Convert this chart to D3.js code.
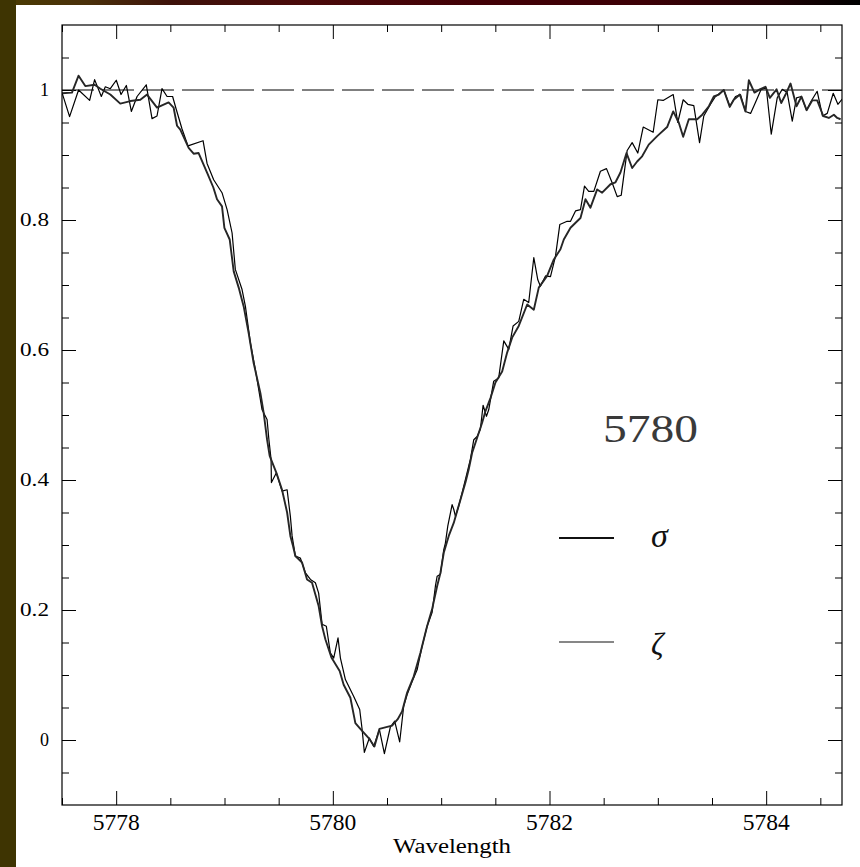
<!DOCTYPE html>
<html>
<head>
<meta charset="utf-8">
<script src="https://cdn.jsdelivr.net/npm/d3@7"></script>
<style>
html,body{margin:0;padding:0;background:#fff;}
svg{display:block;}
</style>
</head>
<body>
<svg id="chart" width="860" height="867"></svg>
<script>
// ---- data ----
const sigmaWave = [5777.500,5777.592,5777.653,5777.715,5777.801,5777.854,5777.946,5778.038,5778.131,5778.223,5778.285,5778.377,5778.484,5778.530,5778.562,5778.592,5778.669,5778.715,5778.761,5778.839,5778.897,5778.931,5778.977,5778.999,5779.048,5779.085,5779.131,5779.177,5779.223,5779.269,5779.331,5779.362,5779.393,5779.417,5779.479,5779.531,5779.578,5779.608,5779.633,5779.654,5779.716,5779.762,5779.808,5779.869,5779.901,5779.931,5779.987,5780.063,5780.100,5780.162,5780.208,5780.254,5780.331,5780.384,5780.430,5780.547,5780.599,5780.639,5780.686,5780.747,5780.808,5780.870,5780.916,5780.963,5780.993,5781.024,5781.070,5781.116,5781.147,5781.184,5781.224,5781.254,5781.286,5781.332,5781.378,5781.409,5781.455,5781.501,5781.563,5781.609,5781.655,5781.716,5781.794,5781.855,5781.901,5781.978,5782.039,5782.101,5782.132,5782.194,5782.255,5782.286,5782.332,5782.378,5782.440,5782.486,5782.563,5782.609,5782.655,5782.711,5782.763,5782.809,5782.855,5782.916,5782.994,5783.086,5783.142,5783.193,5783.234,5783.286,5783.363,5783.410,5783.471,5783.517,5783.563,5783.609,5783.664,5783.701,5783.757,5783.809,5783.840,5783.892,5783.941,5783.994,5784.034,5784.096,5784.139,5784.179,5784.225,5784.280,5784.326,5784.373,5784.425,5784.471,5784.527,5784.578,5784.625,5784.656,5784.687];
const sigmaFlux = [0.995,0.996,1.022,1.006,1.008,1.002,0.993,0.979,0.983,0.985,0.993,0.973,0.981,0.973,0.945,0.939,0.911,0.902,0.903,0.873,0.850,0.832,0.821,0.788,0.770,0.721,0.696,0.667,0.626,0.580,0.534,0.503,0.462,0.437,0.411,0.385,0.350,0.314,0.298,0.283,0.273,0.247,0.242,0.206,0.175,0.155,0.127,0.106,0.085,0.065,0.026,0.017,0.003,-0.010,0.017,0.022,0.032,0.044,0.073,0.098,0.134,0.175,0.201,0.237,0.257,0.288,0.314,0.334,0.352,0.373,0.396,0.416,0.442,0.465,0.488,0.506,0.526,0.550,0.567,0.596,0.619,0.637,0.670,0.662,0.696,0.714,0.739,0.755,0.770,0.788,0.798,0.803,0.832,0.819,0.847,0.842,0.855,0.858,0.873,0.903,0.880,0.890,0.898,0.916,0.929,0.943,0.967,0.950,0.928,0.955,0.955,0.962,0.975,0.990,0.993,1.000,0.974,0.985,0.993,0.967,1.015,0.996,1.001,1.005,0.988,1.001,0.980,0.993,1.010,0.975,0.990,0.969,0.984,0.984,0.960,0.957,0.962,0.957,0.955];

const zetaWave = [5777.500,5777.570,5777.653,5777.755,5777.801,5777.863,5777.900,5777.946,5778.001,5778.045,5778.094,5778.140,5778.193,5778.278,5778.331,5778.377,5778.423,5778.470,5778.521,5778.555,5778.608,5778.663,5778.802,5778.839,5778.900,5778.977,5779.024,5779.070,5779.100,5779.162,5779.193,5779.239,5779.285,5779.347,5779.393,5779.410,5779.430,5779.433,5779.479,5779.531,5779.578,5779.608,5779.624,5779.654,5779.700,5779.747,5779.793,5779.839,5779.869,5779.901,5779.940,5779.977,5780.008,5780.048,5780.070,5780.116,5780.193,5780.248,5780.270,5780.291,5780.337,5780.377,5780.430,5780.476,5780.531,5780.571,5780.617,5780.654,5780.686,5780.732,5780.778,5780.824,5780.870,5780.916,5780.947,5780.963,5780.993,5781.024,5781.039,5781.061,5781.101,5781.116,5781.132,5781.162,5781.193,5781.224,5781.270,5781.301,5781.332,5781.362,5781.387,5781.418,5781.439,5781.485,5781.531,5781.578,5781.624,5781.664,5781.716,5781.762,5781.808,5781.855,5781.892,5781.916,5781.963,5782.009,5782.055,5782.095,5782.163,5782.194,5782.240,5782.286,5782.323,5782.362,5782.409,5782.470,5782.526,5782.579,5782.625,5782.662,5782.717,5782.763,5782.815,5782.865,5782.957,5783.000,5783.049,5783.142,5783.184,5783.234,5783.277,5783.332,5783.385,5783.424,5783.486,5783.532,5783.578,5783.609,5783.664,5783.717,5783.763,5783.809,5783.856,5783.902,5783.954,5784.001,5784.047,5784.102,5784.148,5784.194,5784.241,5784.280,5784.324,5784.373,5784.416,5784.471,5784.520,5784.564,5784.619,5784.662,5784.702];
const zetaFlux = [0.996,0.959,1.000,0.984,1.016,0.990,1.005,1.002,1.015,0.993,1.007,0.967,0.990,1.008,0.956,0.960,1.002,0.990,0.990,0.970,0.940,0.914,0.922,0.887,0.862,0.842,0.816,0.780,0.724,0.693,0.667,0.611,0.570,0.508,0.493,0.462,0.432,0.396,0.411,0.383,0.385,0.344,0.314,0.283,0.280,0.257,0.247,0.242,0.226,0.178,0.175,0.134,0.126,0.157,0.126,0.093,0.067,0.047,0.017,-0.019,0.003,-0.010,0.016,-0.021,0.020,0.029,-0.003,0.052,0.070,0.090,0.108,0.144,0.175,0.196,0.237,0.252,0.255,0.293,0.303,0.329,0.362,0.355,0.344,0.360,0.380,0.401,0.432,0.462,0.467,0.478,0.515,0.498,0.508,0.552,0.557,0.614,0.601,0.637,0.644,0.678,0.673,0.742,0.708,0.698,0.714,0.713,0.744,0.793,0.798,0.798,0.814,0.816,0.852,0.844,0.844,0.875,0.879,0.857,0.836,0.838,0.907,0.919,0.903,0.943,0.935,0.985,0.984,0.993,0.950,0.985,0.978,0.976,0.919,0.960,0.978,0.990,0.996,1.000,0.975,0.990,0.993,0.967,0.964,0.981,1.001,1.003,0.932,0.988,1.001,0.996,0.952,0.988,0.990,0.969,0.983,0.998,0.960,0.964,0.995,0.978,0.986];

const xDomain = [5777.5, 5784.7];
const yDomain = [-0.1, 1.1];
const xMajorTicks = [5778, 5780, 5782, 5784];
const xMinorTicks = [5777.5, 5778.5, 5779, 5779.5, 5780.5, 5781, 5781.5, 5782.5, 5783, 5783.5, 5784.5];
const yMajorTicks = [0, 0.2, 0.4, 0.6, 0.8, 1];
const yTickLabels = ["0", "0.2", "0.4", "0.6", "0.8", "1"];
const yMinorTicks = [-0.05, 0.05, 0.1, 0.15, 0.25, 0.3, 0.35, 0.45, 0.5, 0.55, 0.65, 0.7, 0.75, 0.85, 0.9, 0.95, 1.05];
const continuumLevel = [1];
const xAxisTitle = "Wavelength";
const annotation = "5780";
const legendNames = ["σ", "ζ"];

// ---- layout ----
const W = 860, H = 867;
const L = 62, R = 842, T = 25, B = 805;
const svg = d3.select("#chart");

// background strips
const defs = svg.append("defs");
const grad = defs.append("linearGradient").attr("id","topgrad").attr("x1","0").attr("x2","1").attr("y1","0").attr("y2","0");
[["0","#4a3c02"],["0.1","#4a300a"],["0.2","#3e120a"],["0.35","#4a0a0a"],["0.55","#420006"],["0.75","#3c0006"],["0.9","#1e0204"],["1","#000000"]]
  .forEach(([o,c]) => grad.append("stop").attr("offset",o).attr("stop-color",c));
svg.append("rect").attr("x",0).attr("y",0).attr("width",W).attr("height",H).attr("fill","#ffffff");
svg.append("rect").attr("x",0).attr("y",0).attr("width",W).attr("height",5).attr("fill","url(#topgrad)");
svg.append("rect").attr("x",0).attr("y",0).attr("width",16).attr("height",H).attr("fill","#3e3402");

const x = d3.scaleLinear().domain(xDomain).range([L, R]);
const y = d3.scaleLinear().domain(yDomain).range([B, T]);

defs.append("clipPath").attr("id","plotclip").append("rect")
  .attr("x",L).attr("y",T).attr("width",R-L).attr("height",B-T);

// axes: ticks inside on all four sides
function styleAxis(g){
  g.select(".domain").remove();
  g.selectAll(".tick line").attr("stroke","#000").attr("stroke-width",1);
  g.selectAll(".tick text").remove();
}
svg.append("g").attr("transform",`translate(0,${B})`)
  .call(d3.axisBottom(x).tickValues(xMajorTicks).tickSize(-14)).call(styleAxis);
svg.append("g").attr("transform",`translate(0,${B})`)
  .call(d3.axisBottom(x).tickValues(xMinorTicks).tickSize(-7)).call(styleAxis);
svg.append("g").attr("transform",`translate(0,${T})`)
  .call(d3.axisTop(x).tickValues(xMajorTicks).tickSize(-14)).call(styleAxis);
svg.append("g").attr("transform",`translate(0,${T})`)
  .call(d3.axisTop(x).tickValues(xMinorTicks).tickSize(-7)).call(styleAxis);
svg.append("g").attr("transform",`translate(${L},0)`)
  .call(d3.axisLeft(y).tickValues(yMajorTicks).tickSize(-14)).call(styleAxis);
svg.append("g").attr("transform",`translate(${L},0)`)
  .call(d3.axisLeft(y).tickValues(yMinorTicks).tickSize(-7)).call(styleAxis);
svg.append("g").attr("transform",`translate(${R},0)`)
  .call(d3.axisRight(y).tickValues(yMajorTicks).tickSize(-14)).call(styleAxis);
svg.append("g").attr("transform",`translate(${R},0)`)
  .call(d3.axisRight(y).tickValues(yMinorTicks).tickSize(-7)).call(styleAxis);

// tick labels
const labelFont = "'Liberation Serif','DejaVu Serif',serif";
svg.append("g").selectAll("text").data(xMajorTicks).join("text")
  .attr("x", d => x(d)).attr("y", B + 25)
  .attr("text-anchor","middle").attr("font-family",labelFont).attr("font-size",24)
  .attr("textLength",47).attr("lengthAdjust","spacingAndGlyphs")
  .attr("fill","#000").text(d => d);
svg.append("g").selectAll("text").data(yMajorTicks).join("text")
  .attr("x", 49).attr("y", d => y(d) + 6)
  .attr("text-anchor","end").attr("font-family",labelFont).attr("font-size",18)
  .attr("fill","#000")
  .each(function(d,i){
    const t = d3.select(this).text(yTickLabels[i]);
    if (yTickLabels[i].length > 1) t.attr("textLength",29).attr("lengthAdjust","spacingAndGlyphs");
  });

svg.append("text").attr("x",(L+R)/2).attr("y",853).attr("text-anchor","middle")
  .attr("font-family",labelFont).attr("font-size",20)
  .attr("textLength",118).attr("lengthAdjust","spacingAndGlyphs")
  .attr("fill","#000").text(xAxisTitle);

// continuum dashed line
svg.append("g").selectAll("line").data(continuumLevel).join("line")
  .attr("x1",x(xDomain[0])).attr("x2",x(xDomain[1]))
  .attr("y1",d=>y(d)).attr("y2",d=>y(d))
  .attr("stroke","#000").attr("stroke-width",1).attr("stroke-dasharray","32,8");

// spectra
const plot = svg.append("g").attr("clip-path","url(#plotclip)");
const line = d3.line().x(d => x(d[0])).y(d => y(d[1]));
const sigmaPts = sigmaWave.map((w,i) => [w, sigmaFlux[i]]);
const zetaPts = zetaWave.map((w,i) => [w, zetaFlux[i]]);
plot.append("path").datum(zetaPts).attr("d",line)
  .attr("fill","none").attr("stroke","#000").attr("stroke-width",1.2).attr("stroke-linejoin","round");
plot.append("path").datum(sigmaPts).attr("d",line)
  .attr("fill","none").attr("stroke","#262626").attr("stroke-width",1.9).attr("stroke-linejoin","round");

// frame
svg.append("rect").attr("x",L).attr("y",T).attr("width",R-L).attr("height",B-T)
  .attr("fill","none").attr("stroke","#000").attr("stroke-width",1.2);

// annotation
svg.append("text").attr("x",603).attr("y",442)
  .attr("font-family",labelFont).attr("font-size",39)
  .attr("textLength",95).attr("lengthAdjust","spacingAndGlyphs")
  .attr("fill","#3a3a3a").text(annotation);

// legend
const legendY = [538, 642];
const legendW = [2, 1.2];
const leg = svg.append("g");
legendNames.forEach((n,i) => {
  leg.append("line").attr("x1",559).attr("x2",614).attr("y1",legendY[i]).attr("y2",legendY[i])
    .attr("stroke","#111").attr("stroke-width",legendW[i]);
  leg.append("text").attr("x",651).attr("y", i === 0 ? 547 : 655)
    .attr("font-family",labelFont).attr("font-style","italic")
    .attr("font-size", i === 0 ? 34 : 31).attr("fill","#111").text(n);
});
</script>
</body>
</html>
